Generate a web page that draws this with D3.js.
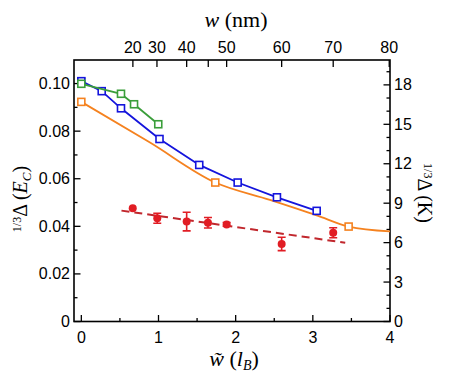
<!DOCTYPE html>
<html>
<head>
<meta charset="utf-8">
<script src="https://cdn.jsdelivr.net/npm/d3@7"></script>
<style>
  body { margin: 0; background: #fff; }
  svg text { font-family: "Liberation Sans", Arial, sans-serif; }
  .math { font-family: "Liberation Serif", "DejaVu Serif", serif; }
</style>
</head>
<body>
<svg id="chart" width="450" height="381"></svg>
<script>
// gap vs. width
const blueX = [0, 0.264, 0.514, 1.013, 1.528, 2.026, 2.535, 3.05];
const blueY = [0.101, 0.0968, 0.0896, 0.0767, 0.0658, 0.0584, 0.0522, 0.0465];
const blueErr = [0.0012, 0, 0, 0, 0, 0, 0, 0];

const greenX = [0, 0.514, 0.683, 0.997];
const greenY = [0.0999, 0.0957, 0.0913, 0.0829];

const orangeX = [0, 1.736, 3.464];
const orangeY = [0.0923, 0.0584, 0.0399];
const orangeLineX = [0, 0.89, 1.736, 2.444, 3.05, 3.464, 4];
const orangeLineY = [0.0923, 0.0752, 0.0584, 0.0511, 0.0446, 0.0399, 0.0379];

const redX = [0.666, 0.984, 1.365, 1.641, 1.883, 2.596, 3.264];
const redY = [0.0476, 0.0434, 0.042, 0.0415, 0.0408, 0.0326, 0.0373];
const redErr = [0, 0.0021, 0.0039, 0.0022, 0.0008, 0.0028, 0.0021];
const fitX = [0.52, 3.42];
const fitY = [0.0466, 0.0331];

// top axis: w in nm sits at these w~ positions
const topTickNm = [20, 30, 40, 45, 50, 60, 70, 80];
const topTickWt = [0.668, 0.98, 1.365, 1.645, 1.883, 2.596, 3.264, 3.99];
const topTickLabel = ["20", "30", "40", "", "50", "60", "70", "80"];

const EC_TO_K = 181;

const svg = d3.select("#chart");
const m = { left: 74, right: 390, top: 60, bottom: 321.5 };

const x = d3.scaleLinear().domain([-0.095, 4]).range([m.left, m.right]);
const y = d3.scaleLinear().domain([0, 0.1099]).range([m.bottom, m.top]);
const yK = d3.scaleLinear().domain([0, 0.1099 * EC_TO_K]).range([m.bottom, m.top]);

const C = { blue: "#1414dc", green: "#3a9e3a", orange: "#f5821f", red: "#e11d24", fit: "#c1272d" };

// ticks (all inward)
const tickG = svg.append("g").attr("stroke", "#000").attr("stroke-width", 1.3);
const major = 6.5, minor = 3.5;

d3.range(0, 4.01, 0.5).forEach(v => {
  const len = Math.abs(v - Math.round(v)) < 1e-6 ? major : minor;
  tickG.append("line").attr("x1", x(v)).attr("x2", x(v)).attr("y1", m.bottom).attr("y2", m.bottom - len);
});
d3.range(0, 0.1001, 0.01).forEach(v => {
  const len = Math.round(v * 100) % 2 === 0 ? major : minor;
  tickG.append("line").attr("x1", m.left).attr("x2", m.left + len).attr("y1", y(v)).attr("y2", y(v));
});
d3.range(0, 19.5, 1).forEach(v => {
  const len = v % 3 === 0 ? major : minor;
  tickG.append("line").attr("x1", m.right).attr("x2", m.right - len).attr("y1", yK(v)).attr("y2", yK(v));
});
topTickWt.forEach(v => {
  tickG.append("line").attr("x1", x(v)).attr("x2", x(v)).attr("y1", m.top).attr("y2", m.top + 7);
});

// frame
svg.append("rect")
  .attr("x", m.left).attr("y", m.top)
  .attr("width", m.right - m.left).attr("height", m.bottom - m.top)
  .attr("fill", "none").attr("stroke", "#000").attr("stroke-width", 1.6);

// tick labels
const lab = svg.append("g").attr("font-size", 16).attr("fill", "#000");
d3.range(0, 5).forEach(v => {
  lab.append("text").attr("x", x(v)).attr("y", m.bottom + 21).attr("text-anchor", "middle").text(v);
});
[0, 0.02, 0.04, 0.06, 0.08, 0.10].forEach(v => {
  lab.append("text").attr("x", m.left - 4).attr("y", y(v) + 5.5).attr("text-anchor", "end")
    .text(v === 0 ? "0" : d3.format(".2f")(v));
});
d3.range(0, 19, 3).forEach(v => {
  lab.append("text").attr("x", m.right + 4).attr("y", yK(v) + 5.5).text(v);
});
topTickWt.forEach((v, i) => {
  if (topTickLabel[i]) {
    lab.append("text").attr("x", x(v)).attr("y", m.top - 7).attr("text-anchor", "middle").text(topTickLabel[i]);
  }
});

// axis titles
const topT = svg.append("text").attr("class", "math").attr("x", 236).attr("y", 27)
  .attr("text-anchor", "middle").attr("font-size", 22);
topT.append("tspan").attr("font-style", "italic").text("w");
topT.append("tspan").text(" (nm)");

const botT = svg.append("text").attr("class", "math").attr("x", 234).attr("y", 366)
  .attr("text-anchor", "middle").attr("font-size", 22);
botT.append("tspan").attr("font-style", "italic").text("w\u0303");
botT.append("tspan").text(" (");
botT.append("tspan").attr("font-style", "italic").text("l");
botT.append("tspan").attr("font-style", "italic").attr("font-size", 14).attr("dy", 4).text("B");
botT.append("tspan").attr("dy", -4).text(")");

const leftT = svg.append("text").attr("class", "math")
  .attr("transform", "translate(27,199) rotate(-90)")
  .attr("text-anchor", "middle").attr("font-size", 20);
leftT.append("tspan").attr("font-size", 12).attr("dy", -6).text("1/3");
leftT.append("tspan").attr("dy", 6).text("\u0394 (");
leftT.append("tspan").attr("font-style", "italic").text("E");
leftT.append("tspan").attr("font-style", "italic").attr("font-size", 13).attr("dy", 4).text("C");
leftT.append("tspan").attr("dy", -4).text(")");

const rightT = svg.append("text").attr("class", "math")
  .attr("transform", "translate(418,193) rotate(90)")
  .attr("text-anchor", "middle").attr("font-size", 20);
rightT.append("tspan").attr("font-size", 12).attr("dy", -6).text("1/3");
rightT.append("tspan").attr("dy", 6).text("\u0394 (K)");

// series
const line = d3.line().x(d => x(d[0])).y(d => y(d[1]));
const plotG = svg.append("g");

const drawSquares = function (xs, ys, color) {
  plotG.selectAll(null).data(d3.zip(xs, ys)).join("rect")
    .attr("x", d => x(d[0]) - 3.5).attr("y", d => y(d[1]) - 3.5)
    .attr("width", 7).attr("height", 7)
    .attr("fill", "#fff").attr("stroke", color).attr("stroke-width", 1.6);
}

plotG.append("path").datum(d3.zip(orangeLineX, orangeLineY)).attr("d", line.curve(d3.curveMonotoneX))
  .attr("fill", "none").attr("stroke", C.orange).attr("stroke-width", 1.8);
line.curve(d3.curveLinear);
drawSquares(orangeX, orangeY, C.orange);

plotG.append("path").datum(d3.zip(blueX, blueY)).attr("d", line)
  .attr("fill", "none").attr("stroke", C.blue).attr("stroke-width", 1.8);
blueX.forEach((v, i) => {
  if (blueErr[i] > 0) {
    plotG.append("path")
      .attr("d", `M${x(v) - 4},${y(blueY[i] + blueErr[i])}H${x(v) + 4}M${x(v)},${y(blueY[i] + blueErr[i])}V${y(blueY[i] - blueErr[i])}M${x(v) - 4},${y(blueY[i] - blueErr[i])}H${x(v) + 4}`)
      .attr("stroke", C.blue).attr("stroke-width", 1.6);
  }
});
drawSquares(blueX, blueY, C.blue);

plotG.append("path").datum(d3.zip(greenX, greenY)).attr("d", line)
  .attr("fill", "none").attr("stroke", C.green).attr("stroke-width", 1.8);
drawSquares(greenX, greenY, C.green);

// red: fit line + points with error bars
plotG.append("path").datum(d3.zip(fitX, fitY)).attr("d", line)
  .attr("fill", "none").attr("stroke", C.fit).attr("stroke-width", 2)
  .attr("stroke-dasharray", "8,5");
redX.forEach((v, i) => {
  const e = redErr[i];
  if (e > 0) {
    plotG.append("path")
      .attr("d", `M${x(v) - 4},${y(redY[i] + e)}H${x(v) + 4}M${x(v)},${y(redY[i] + e)}V${y(redY[i] - e)}M${x(v) - 4},${y(redY[i] - e)}H${x(v) + 4}`)
      .attr("stroke", C.red).attr("stroke-width", 1.6).attr("fill", "none");
  }
});
plotG.selectAll(null).data(d3.zip(redX, redY)).join("circle")
  .attr("cx", d => x(d[0])).attr("cy", d => y(d[1])).attr("r", 4)
  .attr("fill", C.red);
</script>
</body>
</html>
